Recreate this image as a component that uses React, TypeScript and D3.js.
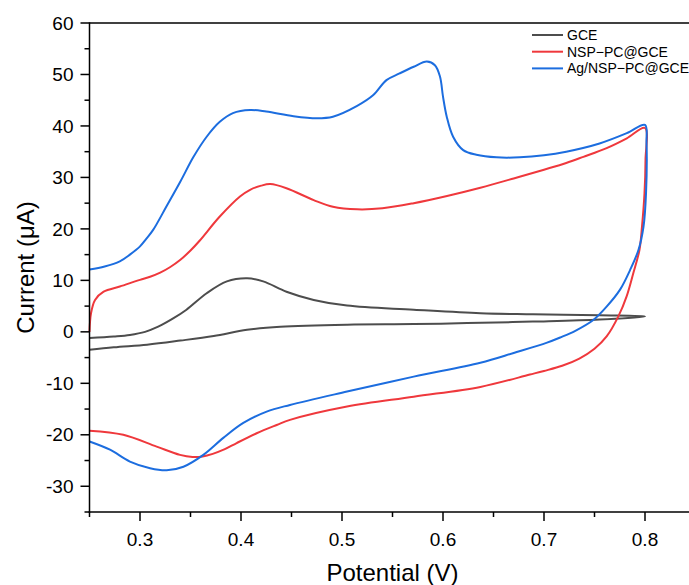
import React from "react";
import * as d3 from "d3";

// Ag/NSP-PC@GCE (blue): potential (V) and current (µA), forward then reverse sweep
const agPotential = [0.25, 0.265, 0.28, 0.29, 0.3, 0.306, 0.313, 0.326, 0.34, 0.353, 0.366, 0.379, 0.392, 0.409, 0.425, 0.452, 0.475, 0.491, 0.515, 0.531, 0.544, 0.557, 0.571, 0.584, 0.592, 0.597, 0.6, 0.6037, 0.61, 0.62, 0.633, 0.653, 0.676, 0.7, 0.722, 0.755, 0.782, 0.8,
  0.8015, 0.801, 0.7985, 0.7935, 0.7852, 0.7753, 0.762, 0.7488, 0.731, 0.716, 0.703, 0.67, 0.637, 0.571, 0.505, 0.4485, 0.4254, 0.4023, 0.3825, 0.3627, 0.343, 0.3264, 0.31, 0.29, 0.2703, 0.25];
const agCurrent = [12.1, 12.7, 13.7, 15.0, 16.6, 18.0, 19.8, 24.3, 29.2, 34.0, 37.9, 40.8, 42.5, 43.1, 42.8, 41.9, 41.5, 41.8, 43.9, 46.0, 48.9, 50.2, 51.5, 52.5, 51.8, 49.6, 45.7, 41.8, 37.9, 35.3, 34.4, 33.9, 33.9, 34.3, 35.0, 36.6, 38.6, 40.2,
  36.6, 26.9, 20.4, 15.9, 12.0, 8.2, 4.9, 2.3, 0.2, -1.1, -2.1, -4.1, -6.0, -8.7, -11.6, -14.2, -15.5, -17.7, -20.6, -23.9, -26.2, -26.9, -26.5, -25.2, -22.9, -21.3];

// NSP-PC@GCE (red)
const nspPotential = [0.25, 0.2515, 0.2555, 0.264, 0.28, 0.3, 0.31, 0.32, 0.33, 0.34, 0.35, 0.359, 0.379, 0.399, 0.409, 0.42, 0.429, 0.445, 0.472, 0.491, 0.515, 0.54, 0.571, 0.604, 0.637, 0.67, 0.7, 0.722, 0.739, 0.762, 0.782, 0.8,
  0.8005, 0.7995, 0.797, 0.7945, 0.7884, 0.7818, 0.7736, 0.762, 0.75, 0.735, 0.718, 0.7, 0.686, 0.637, 0.571, 0.505, 0.4485, 0.4353, 0.4155, 0.3957, 0.384, 0.372, 0.362, 0.352, 0.3396, 0.3165, 0.2835, 0.25];
const nspCurrent = [0.0, 3.6, 6.2, 7.8, 8.8, 10.1, 10.7, 11.5, 12.6, 14.0, 15.8, 17.7, 22.4, 26.3, 27.6, 28.4, 28.7, 27.9, 25.6, 24.3, 23.8, 24.0, 25.0, 26.4, 28.0, 29.8, 31.5, 32.8, 34.0, 35.7, 37.6, 39.6,
  33.4, 26.9, 20.4, 15.9, 11.4, 6.9, 3.0, -0.9, -3.3, -5.2, -6.6, -7.6, -8.3, -10.7, -12.6, -14.5, -17.1, -18.1, -19.7, -21.6, -22.8, -23.7, -24.2, -24.3, -23.9, -22.3, -20.0, -19.2];

// GCE (gray)
const gcePotential = [0.25, 0.274, 0.29, 0.305, 0.318, 0.332, 0.346, 0.366, 0.386, 0.406, 0.422, 0.445, 0.472, 0.505, 0.571, 0.637, 0.689, 0.755, 0.8,
  0.755, 0.689, 0.624, 0.571, 0.505, 0.439, 0.406, 0.373, 0.34, 0.307, 0.274, 0.25];
const gceCurrent = [-1.2, -0.9, -0.6, 0.0, 1.0, 2.5, 4.3, 7.5, 9.8, 10.4, 9.8, 7.8, 6.2, 5.1, 4.3, 3.6, 3.4, 3.2, 3.0,
  2.4, 2.0, 1.7, 1.5, 1.4, 1.0, 0.4, -0.8, -1.7, -2.5, -3.0, -3.5];

const seriesNames = ["GCE", "NSP\u2212PC@GCE", "Ag/NSP\u2212PC@GCE"];
const seriesColors = ["#4d4d4d", "#ef383c", "#1c6ddf"];

const xMajorTicks = [0.3, 0.4, 0.5, 0.6, 0.7, 0.8];
const xMinorTicks = [0.25, 0.35, 0.45, 0.55, 0.65, 0.75, 0.85];
const yMajorTicks = [-30, -20, -10, 0, 10, 20, 30, 40, 50, 60];
const yMinorTicks = [-35, -25, -15, -5, 5, 15, 25, 35, 45, 55];

const W = 689;
const H = 585;
const left = 89.5;
const right = 695.5;
const top = 23;
const bottom = 512;

export default function App() {
  const x = d3.scaleLinear().domain([0.25, 0.85]).range([left, right]);
  const y = d3.scaleLinear().domain([-35, 60]).range([bottom, top]);
  const line = d3
    .line<[number, number]>()
    .x((d) => x(d[0]))
    .y((d) => y(d[1]))
    .curve(d3.curveCatmullRom.alpha(0.5));

  const series = [
    { v: gcePotential, i: gceCurrent },
    { v: nspPotential, i: nspCurrent },
    { v: agPotential, i: agCurrent },
  ];
  const font = "'Liberation Sans', Arial, sans-serif";

  return (
    <svg
      width={W}
      height={H}
      style={{ position: "absolute", left: 0, top: 0, background: "#fff" }}
      fontFamily={font}
    >
      <rect x={0} y={0} width={W} height={H} fill="#fff" />
      {series.map((s, k) => (
        <path
          key={k}
          d={line(s.v.map((v, j) => [v, s.i[j]] as [number, number])) || ""}
          fill="none"
          stroke={seriesColors[k]}
          strokeWidth={2}
          strokeLinejoin="round"
        />
      ))}
      {/* frame */}
      <line x1={left} x2={W} y1={top} y2={top} stroke="#000" strokeWidth={1.5} />
      <line x1={left} x2={left} y1={top - 0.75} y2={bottom + 0.75} stroke="#000" strokeWidth={1.5} />
      <line x1={left - 0.75} x2={W} y1={bottom} y2={bottom} stroke="#000" strokeWidth={1.5} />
      {/* y ticks */}
      {yMajorTicks.map((t) => (
        <g key={"ym" + t}>
          <line x1={left - 9} x2={left} y1={y(t)} y2={y(t)} stroke="#000" strokeWidth={1.5} />
          <text x={left - 16} y={y(t)} dy="0.35em" textAnchor="end" fontSize={19} fill="#000">
            {t}
          </text>
        </g>
      ))}
      {yMinorTicks.map((t) => (
        <line key={"yn" + t} x1={left - 5} x2={left} y1={y(t)} y2={y(t)} stroke="#000" strokeWidth={1.5} />
      ))}
      {/* x ticks */}
      {xMajorTicks.map((t) => (
        <g key={"xm" + t}>
          <line x1={x(t)} x2={x(t)} y1={bottom} y2={bottom + 9} stroke="#000" strokeWidth={1.5} />
          <text x={x(t)} y={546} textAnchor="middle" fontSize={19} fill="#000">
            {t.toFixed(1)}
          </text>
        </g>
      ))}
      {xMinorTicks.map((t) => (
        <line key={"xn" + t} x1={x(t)} x2={x(t)} y1={bottom} y2={bottom + 5} stroke="#000" strokeWidth={1.5} />
      ))}
      {/* axis titles */}
      <text x={(left + right) / 2} y={581} textAnchor="middle" fontSize={24} fill="#000">
        Potential (V)
      </text>
      <text
        transform={`translate(34,${(top + bottom) / 2}) rotate(-90)`}
        textAnchor="middle"
        fontSize={24}
        fill="#000"
      >
        Current (μA)
      </text>
      {/* legend */}
      {seriesNames.map((n, k) => (
        <g key={n} transform={`translate(532,${35 + k * 16.7})`}>
          <line x1={0} x2={31} y1={0} y2={0} stroke={seriesColors[k]} strokeWidth={2} />
          <text x={35} y={0} dy="0.35em" fontSize={14} fill="#000">
            {n}
          </text>
        </g>
      ))}
    </svg>
  );
}
